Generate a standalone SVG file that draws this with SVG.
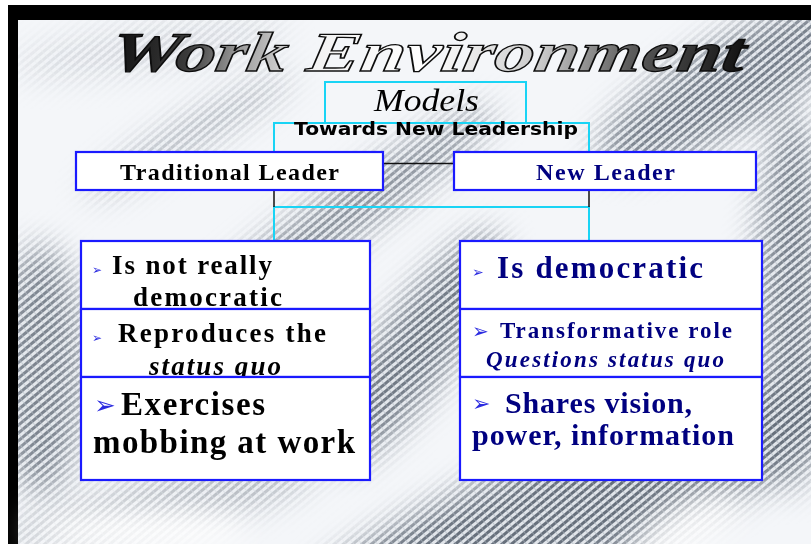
<svg xmlns="http://www.w3.org/2000/svg" width="811" height="544" viewBox="0 0 811 544">
  <style>
    .cyan { fill: none; stroke: #19d4f5; stroke-width: 2; }
    .wire { fill: none; stroke: #111; stroke-width: 1.5; }
    .box { fill: #fff; stroke: #1a1aff; stroke-width: 2.2; }
    .lbl { font-family: "Liberation Serif", "Times New Roman", serif; font-weight: bold; }
    .blk { fill: #000; }
    .navy { fill: #000080; }
    .it { font-style: italic; }
    .bul { font-family: "DejaVu Sans", sans-serif; fill: #2b2be0; }
  </style>
  <defs>
    <pattern id="weave" width="6" height="6" patternUnits="userSpaceOnUse" patternTransform="rotate(50)">
      <rect width="6" height="6" fill="#e1e5ea"/>
      <rect width="3" height="6" fill="#67707c"/>
      <rect y="0" width="6" height="1" fill="#a9b0ba" opacity="0.6"/>
    </pattern>
    <filter id="soft" x="-50%" y="-50%" width="200%" height="200%">
      <feGaussianBlur stdDeviation="16"/>
    </filter>
    <mask id="streaks" maskUnits="userSpaceOnUse" x="0" y="0" width="811" height="544">
      <rect width="811" height="544" fill="#000"/>
      <g filter="url(#soft)" fill="#fff">
        <ellipse cx="730" cy="85" rx="150" ry="45" transform="rotate(-30 730 85)" opacity="0.9"/>
        <ellipse cx="150" cy="48" rx="140" ry="20" transform="rotate(-8 150 48)" opacity="0.25"/>
        <ellipse cx="190" cy="135" rx="120" ry="16" transform="rotate(-30 190 135)" opacity="0.5"/>
        <ellipse cx="330" cy="225" rx="200" ry="26" transform="rotate(-35 330 225)" opacity="0.8"/>
        <ellipse cx="415" cy="350" rx="140" ry="38" transform="rotate(-55 415 350)" opacity="0.95"/>
        <ellipse cx="40" cy="370" rx="45" ry="125" opacity="0.85"/>
        <ellipse cx="792" cy="300" rx="35" ry="190" opacity="0.9"/>
        <ellipse cx="580" cy="505" rx="330" ry="60" transform="rotate(-22 580 505)" opacity="1"/>
        <ellipse cx="160" cy="505" rx="160" ry="26" transform="rotate(-12 160 505)" opacity="0.5"/>
      </g>
    </mask>
    <linearGradient id="chrome" x1="0" y1="0" x2="634" y2="0" gradientUnits="userSpaceOnUse">
      <stop offset="0" stop-color="#111"/>
      <stop offset="0.12" stop-color="#3a3a3a"/>
      <stop offset="0.2" stop-color="#9a9a9a"/>
      <stop offset="0.32" stop-color="#f2f2f2"/>
      <stop offset="0.5" stop-color="#ffffff"/>
      <stop offset="0.68" stop-color="#c9c9c9"/>
      <stop offset="0.82" stop-color="#5c5c5c"/>
      <stop offset="1" stop-color="#111"/>
    </linearGradient>
  </defs>

  <!-- page edge and frame -->
  <rect width="811" height="544" fill="#fff"/>
  <rect x="8" y="5" width="803" height="539" fill="#000"/>

  <!-- backdrop: pale ground with woven diagonal streaks -->
  <g id="backdrop">
    <rect x="18" y="20" width="793" height="524" fill="#f4f6f9"/>
    <rect x="18" y="20" width="793" height="524" fill="url(#weave)" mask="url(#streaks)"/>
    <g filter="url(#soft)" fill="#fff">
      <ellipse cx="140" cy="530" rx="110" ry="22" opacity="0.9"/>
      <ellipse cx="690" cy="525" rx="60" ry="25" transform="rotate(-30 690 525)" opacity="0.8"/>
    </g>
  </g>

  <!-- heading -->
  <g id="title" transform="translate(108 71) skewX(-10)">
    <text x="0" y="0" textLength="634" lengthAdjust="spacingAndGlyphs" font-family="Liberation Serif, serif" font-weight="bold" font-style="italic" font-size="56" fill="url(#chrome)" stroke="#0d0d0d" stroke-width="1.3">Work Environment</text>
  </g>

  <!-- connectors -->
  <g id="connectors">
    <path class="cyan" d="M274 164 V123 H589 V164"/>
    <path class="cyan" d="M274 243 V207 H589 V243"/>
    <line class="wire" x1="383" y1="163.5" x2="454" y2="163.5"/>
    <line class="wire" x1="274" y1="190" x2="274" y2="207"/>
    <line class="wire" x1="589" y1="190" x2="589" y2="207"/>
  </g>

  <g id="models">
    <rect class="cyan" x="325" y="82" width="201" height="41"/>
    <text x="374" y="111" textLength="105" lengthAdjust="spacingAndGlyphs" font-family="Liberation Serif, serif" font-style="italic" font-size="31" fill="#000">Models</text>
  </g>

  <g id="towards">
    <text x="294" y="135" textLength="284" lengthAdjust="spacingAndGlyphs" font-family="DejaVu Sans, Verdana, sans-serif" font-weight="bold" font-size="17" fill="#000">Towards New Leadership</text>
  </g>

  <g id="traditional-leader">
    <rect class="box" x="76" y="152" width="307" height="38"/>
    <text class="lbl blk" x="120" y="180" textLength="219" lengthAdjust="spacing" font-size="24">Traditional Leader</text>
  </g>

  <g id="new-leader">
    <rect class="box" x="454" y="152" width="302" height="38"/>
    <text class="lbl navy" x="536" y="180" textLength="139" lengthAdjust="spacing" font-size="24">New Leader</text>
  </g>

  <!-- traditional leader traits -->
  <g id="trad-1">
    <rect class="box" x="81" y="241" width="289" height="68"/>
    <text class="bul" x="92" y="274" font-size="12">➢</text>
    <text class="lbl blk" x="112" y="274" textLength="160" lengthAdjust="spacing" font-size="27">Is not really</text>
    <text class="lbl blk" x="133" y="306" textLength="149" lengthAdjust="spacing" font-size="27">democratic</text>
  </g>
  <g id="trad-2">
    <rect class="box" x="81" y="309" width="289" height="68"/>
    <text class="bul" x="92" y="342" font-size="12">➢</text>
    <text class="lbl blk" x="118" y="342" textLength="208" lengthAdjust="spacing" font-size="27">Reproduces the</text>
    <text class="lbl blk it" x="149" y="375" textLength="132" lengthAdjust="spacing" font-size="27">status quo</text>
  </g>
  <g id="trad-3">
    <rect class="box" x="81" y="377" width="289" height="103"/>
    <text class="bul" x="94" y="414" font-size="26">➢</text>
    <text class="lbl blk" x="121" y="415" textLength="144" lengthAdjust="spacing" font-size="33">Exercises</text>
    <text class="lbl blk" x="93" y="453" textLength="262" lengthAdjust="spacing" font-size="33">mobbing at work</text>
  </g>

  <!-- new leader traits -->
  <g id="new-1">
    <rect class="box" x="460" y="241" width="302" height="68"/>
    <text class="bul" x="472" y="277" font-size="14">➢</text>
    <text class="lbl navy" x="497" y="278" textLength="206" lengthAdjust="spacing" font-size="31">Is democratic</text>
  </g>
  <g id="new-2">
    <rect class="box" x="460" y="309" width="302" height="68"/>
    <text class="bul" x="472" y="338" font-size="20">➢</text>
    <text class="lbl navy" x="500" y="338" textLength="232" lengthAdjust="spacing" font-size="23">Transformative role</text>
    <text class="lbl navy it" x="486" y="367" textLength="238" lengthAdjust="spacing" font-size="23">Questions  status quo</text>
  </g>
  <g id="new-3">
    <rect class="box" x="460" y="377" width="302" height="103"/>
    <text class="bul" x="472" y="411" font-size="22">➢</text>
    <text class="lbl navy" x="505" y="413" textLength="187" lengthAdjust="spacing" font-size="30">Shares vision,</text>
    <text class="lbl navy" x="472" y="445" textLength="262" lengthAdjust="spacing" font-size="30">power, information</text>
  </g>
</svg>
